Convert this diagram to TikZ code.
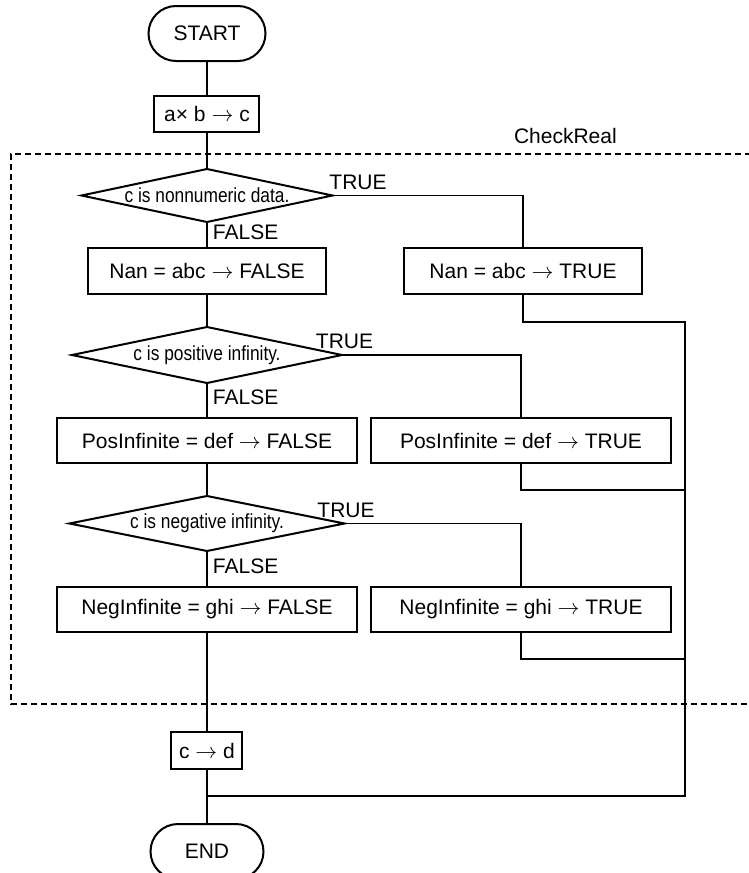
\documentclass[tikz,border=0pt]{standalone}
\usepackage{fontspec}
\setmainfont{Liberation Sans}
\newfontfamily\narrowfont[FakeStretch=0.85]{Liberation Sans}
\usetikzlibrary{positioning,shapes.geometric,shapes.misc,calc}

\begin{document}
\begin{tikzpicture}[
    font=\fontsize{10.5}{12}\selectfont,
    node distance=17.5pt and 7pt,
    terminal/.style  = {rounded rectangle, draw, line width=1pt,
                        minimum height=27.5pt, inner sep=0pt, outer sep=0pt},
    process/.style   = {rectangle, draw, line width=1pt, align=center,
                        minimum height=23pt, inner sep=2pt, outer sep=0pt},
    decision/.style  = {diamond, draw, line width=1pt, inner sep=0pt,
                        outer sep=0pt, font=\narrowfont\fontsize{10.2}{11}\selectfont},
    flow/.style      = {line width=0.95pt},
    tag/.style       = {inner sep=2.5pt},
    regionbox/.style = {line width=0.95pt, dash pattern=on 3pt off 2pt}
]
\useasboundingbox (-103.5pt,16.75pt) rectangle (271pt,-419.75pt);

% --- Main column (top to bottom) --------------------------------------------
\node[terminal, minimum width=58.5pt]                          (start)  {START};
\node[process, minimum width=52.5pt, minimum height=18pt,
      below=17.5pt of start]                                   (calc)   {a× b $\rightarrow$ c};

\node[decision, aspect=4.74, minimum width=125.5pt, minimum height=26.5pt,
      below=18.5pt of calc]                                    (isnan)  {c is nonnumeric data.};
\node[process, minimum width=119pt, below=13pt of isnan]       (nanF)   {Nan = abc $\rightarrow$ FALSE};

\node[decision, aspect=4.82, minimum width=135pt, minimum height=28pt,
      below=16.5pt of nanF]                                    (ispos)  {c is positive infinity.};
\node[process, minimum width=150pt, minimum height=22.5pt,
      below=17.5pt of ispos]                                   (posF)   {PosInfinite = def $\rightarrow$ FALSE};

\node[decision, aspect=5, minimum width=137.5pt, minimum height=27.5pt,
      below=16.5pt of posF]                                    (isneg)  {c is negative infinity.};
\node[process, minimum width=150pt, minimum height=22.5pt,
      below=18pt of isneg]                                     (negF)   {NegInfinite = ghi $\rightarrow$ FALSE};

\node[process, minimum width=35.5pt, minimum height=18.5pt,
      below=50pt of negF]                                      (copy)   {c $\rightarrow$ d};
\node[terminal, minimum width=56.5pt, below=27.5pt of copy]    (finish) {END};

% --- Side column (TRUE branches) --------------------------------------------
\node[process, minimum width=119pt, right=39pt of nanF]        (nanT)   {Nan = abc $\rightarrow$ TRUE};
\node[process, minimum width=150pt, minimum height=22.5pt,
      right=of posF]                                           (posT)   {PosInfinite = def $\rightarrow$ TRUE};
\node[process, minimum width=150pt, minimum height=22.5pt,
      right=of negF]                                           (negT)   {NegInfinite = ghi $\rightarrow$ TRUE};

% --- CheckReal region ---------------------------------------------------------
\coordinate (fTL) at ($(calc.south)+(-98pt,-11pt)$);
\coordinate (fBL) at ($(negF.south)+(-98pt,-36pt)$);
\draw[regionbox] ($(fTL)+(400pt,0)$) -- (fTL) -- (fBL) -- ++(400pt,0);
\node[anchor=base west] at ($(fTL)+(248pt,5.5pt)$)            (region) {CheckReal};

% --- Flows -------------------------------------------------------------------
\draw[flow] (start) -- (calc);
\draw[flow] (calc)  -- (isnan);
\draw[flow] (isnan) -- node[tag, right, yshift=1.5pt]{FALSE} (nanF);
\draw[flow] (nanF)  -- (ispos);
\draw[flow] (ispos) -- node[tag, right, yshift=1.5pt]{FALSE} (posF);
\draw[flow] (posF)  -- (isneg);
\draw[flow] (isneg) -- node[tag, right, yshift=1.5pt]{FALSE} (negF);
\draw[flow] (negF)  -- (copy);
\draw[flow] (copy)  -- (finish);

% TRUE branches go right, then down into the side boxes
\draw[flow] (isnan.east) node[tag, anchor=south west, xshift=-4.5pt]{TRUE} -| (nanT.north);
\draw[flow] (ispos.east) node[tag, anchor=south west, xshift=-16pt]{TRUE}  -| (posT.north);
\draw[flow] (isneg.east) node[tag, anchor=south west, xshift=-16.5pt]{TRUE} -| (negT.north);

% Return rail on the right, back into the main line above END
\coordinate (rail) at ($(nanT.east)+(21.5pt,0)$);
\coordinate (join) at ($(copy.south)+(0,-13.5pt)$);
\draw[flow] (nanT.south) -- ++(0,-14pt) coordinate (t1) -- (t1 -| rail) -- (rail |- join) -- (join);
\draw[flow] (posT.south) -- ++(0,-13.5pt) coordinate (t2) -- (t2 -| rail);
\draw[flow] (negT.south) -- ++(0,-13.5pt) coordinate (t3) -- (t3 -| rail);

\end{tikzpicture}
\end{document}
